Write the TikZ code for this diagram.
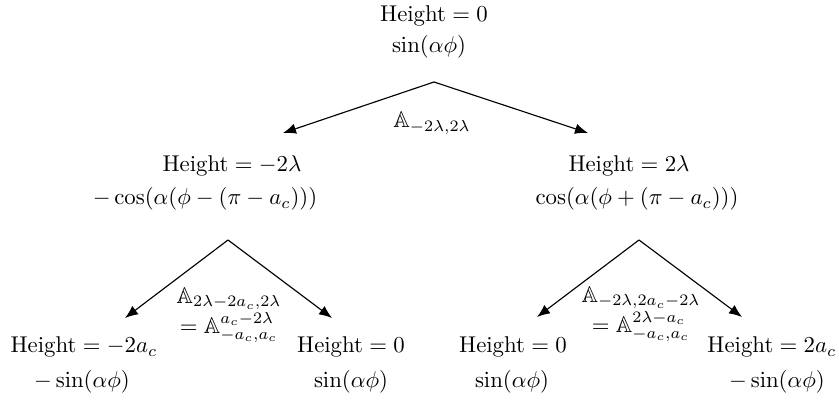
\documentclass[tikz,border=0pt]{standalone}
\usepackage{amsmath}
\usepackage{amssymb}
\usetikzlibrary{arrows.meta,positioning,calc}
\tikzset{
  state/.style={anchor=base, inner sep=1pt, font=\normalsize},
  oplabel/.style={align=center, inner sep=1pt, font=\normalsize},
  arr/.style={-{Latex[length=2mm,width=1.6mm]}, line width=0.5pt},
}
\begin{document}
\begin{tikzpicture}[x=0.01541cm, y=-0.01541cm]
  \useasboundingbox (0,0) rectangle (839,403);
  \node[state] (h0) at (434,22) {$\text{Height} = 0$};
  \node[state] (f0) at (429,53) {$\sin(\alpha\phi)$};
  \node[state] (hl) at (232,172) {$\text{Height} = -2\lambda$};
  \node[state] (fl) at (205,205) {$-\cos(\alpha(\phi-(\pi-a_c)))$};
  \node[state] (hr) at (629,172) {$\text{Height} = 2\lambda$};
  \node[state] (fr) at (637,205) {$\cos(\alpha(\phi+(\pi-a_c)))$};
  \node[state] (hll) at (84,353) {$\text{Height} = -2a_c$};
  \node[state] (fll) at (82,388) {$-\sin(\alpha\phi)$};
  \node[state] (hlr) at (351,353) {$\text{Height} = 0$};
  \node[state] (flr) at (351,388) {$\sin(\alpha\phi)$};
  \node[state] (hrl) at (513,353) {$\text{Height} = 0$};
  \node[state] (frl) at (512,388) {$\sin(\alpha\phi)$};
  \node[state] (hrr) at (772,353) {$\text{Height} = 2a_c$};
  \node[state] (frr) at (777,388) {$-\sin(\alpha\phi)$};
  \coordinate (topfork) at (434,82);
  \coordinate (tophl) at (283,133);
  \coordinate (tophr) at (588,133);
  \coordinate (lfork) at (228,240);
  \coordinate (lfl) at (125,318);
  \coordinate (lfr) at (332,318);
  \coordinate (rfork) at (639,240);
  \coordinate (rfl) at (537,317);
  \coordinate (rfr) at (742,317);
  \draw[arr] (topfork) -- (tophl); \draw[arr] (topfork) -- (tophr);
  \draw[arr] (lfork) -- (lfl); \draw[arr] (lfork) -- (lfr);
  \draw[arr] (rfork) -- (rfl); \draw[arr] (rfork) -- (rfr);
  \node[oplabel] (optop) at (432,123) {$\mathbb{A}_{-2\lambda,2\lambda}$};
  \node[oplabel] (opl) at (229,315) {$\mathbb{A}_{2\lambda-2a_c,2\lambda}$\\ $=\mathbb{A}^{a_c-2\lambda}_{-a_c,a_c}$};
  \node[oplabel] (opr) at (641,314) {$\mathbb{A}_{-2\lambda,2a_c-2\lambda}$\\ $=\mathbb{A}^{2\lambda-a_c}_{-a_c,a_c}$};
\end{tikzpicture}
\end{document}
